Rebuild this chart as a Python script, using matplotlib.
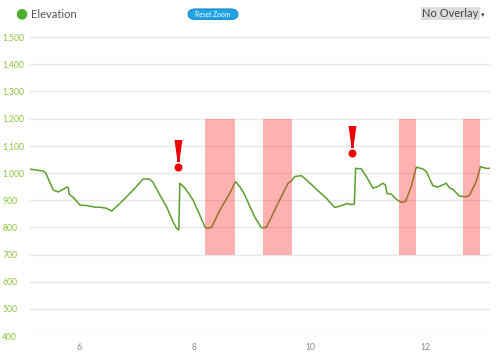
import matplotlib
matplotlib.use('Agg')
import matplotlib.pyplot as plt
from matplotlib.patches import FancyBboxPatch

plt.rcParams['font.family'] = ['Lato', 'DejaVu Sans']

# distance (x) and elevation (y)
dist = [5.152, 5.382, 5.424, 5.555, 5.642, 5.728, 5.787, 5.815, 5.832, 5.901,
        6.017, 6.133, 6.190, 6.277, 6.363, 6.479, 6.566, 6.709, 6.939, 7.112,
        7.228, 7.285, 7.401, 7.517, 7.631, 7.690, 7.730, 7.747, 7.834, 7.978,
        8.093, 8.180, 8.220, 8.296, 8.439, 8.612, 8.711, 8.785, 8.872, 8.958,
        9.045, 9.161, 9.247, 9.420, 9.621, 9.680, 9.737, 9.853, 9.939, 10.112,
        10.285, 10.429, 10.516, 10.659, 10.689, 10.770, 10.792, 10.891, 10.978, 11.092,
        11.178, 11.265, 11.311, 11.334, 11.410, 11.497, 11.583, 11.657, 11.756, 11.843,
        11.957, 12.016, 12.130, 12.216, 12.362, 12.419, 12.476, 12.592, 12.708, 12.765,
        12.881, 12.955, 13.054, 13.123]
elev = [1014, 1007, 1000, 937, 930, 940, 948, 946, 921, 910,
        882, 880, 878, 874, 874, 870, 860, 888, 937, 978,
        977, 965, 919, 876, 820, 796, 790, 962, 945, 900,
        845, 802, 796, 800, 863, 925, 968, 950, 919, 878,
        838, 798, 800, 876, 962, 971, 987, 990, 975, 940,
        907, 873, 878, 888, 884, 885, 1017, 1015, 987, 944,
        950, 962, 955, 925, 922, 903, 892, 895, 950, 1021,
        1015, 1005, 953, 948, 962, 945, 940, 915, 912, 918,
        968, 1023, 1017, 1017]

# highlighted segments (start, end)
band_start = [8.19, 9.18, 11.55, 12.66]
band_end = [8.71, 9.69, 11.83, 12.95]
band_low, band_high = 700, 1200

# warning markers
warn_x = [7.718, 10.728]
warn_y = [1052, 1104]

y_ticks = [400, 500, 600, 700, 800, 900, 1000, 1100, 1200, 1300, 1400, 1500]
x_ticks = [6, 8, 10, 12]

GREEN = '#5c9e2e'
LABEL_GREEN = '#8cc63e'

fig = plt.figure(figsize=(5.0, 3.56), dpi=100)
ax = fig.add_axes([0.06, 0.056, 0.92, 0.84])

ax.plot(dist, elev, color=GREEN, linewidth=1.1, zorder=3)
for x0, x1 in zip(band_start, band_end):
    ax.fill_between([x0, x1], band_low, band_high, color='#ff2020',
                    alpha=0.35, linewidth=0, zorder=4)
for x, y in zip(warn_x, warn_y):
    ax.text(x, y, '!', color='#ee0000', fontsize=31, fontweight='bold',
            family='DejaVu Serif', ha='center', va='center', zorder=5)

ax.set_xlim(5.152, 13.12)
ax.set_ylim(400, 1500)
ax.set_yticks(y_ticks)
ax.set_yticklabels([f'{v:,}' for v in y_ticks])
ax.set_xticks(x_ticks)
ax.grid(axis='y', color='#e8e8e8', linewidth=1.0, zorder=0)
ax.set_axisbelow(True)
for s in ax.spines.values():
    s.set_visible(False)
ax.tick_params(axis='both', length=0)
ax.tick_params(axis='y', labelsize=6.2, labelcolor=LABEL_GREEN, pad=20)
ax.tick_params(axis='x', labelsize=6.2, labelcolor='#888888', pad=5)
for lbl in ax.get_yticklabels():
    lbl.set_horizontalalignment('left')

# header: legend, reset button, overlay selector
fig.text(0.042, 0.962, '\u25CF', color='#4cae2c', fontsize=10, ha='center', va='center',
         family='DejaVu Sans')
fig.text(0.061, 0.96, 'Elevation', color='#555555', fontsize=8, va='center')
btn = FancyBboxPatch((0.376, 0.945), 0.1, 0.03, boxstyle='round,pad=0,rounding_size=0.015',
                     transform=fig.transFigure, facecolor='#1ea3e6', edgecolor='#1680c0',
                     linewidth=0.6)
fig.patches.append(btn)
fig.text(0.426, 0.96, 'Reset Zoom', color='white', fontsize=4.8, ha='center', va='center')
fig.text(0.957, 0.962, 'No Overlay', color='#444444', fontsize=8, ha='right', va='center',
         bbox=dict(facecolor='#dddddd', edgecolor='none', pad=0.8))
fig.text(0.962, 0.958, '\u25BE', color='#444444', fontsize=5, ha='left', va='center',
         family='DejaVu Sans')

fig.savefig('out.png', dpi=100)
